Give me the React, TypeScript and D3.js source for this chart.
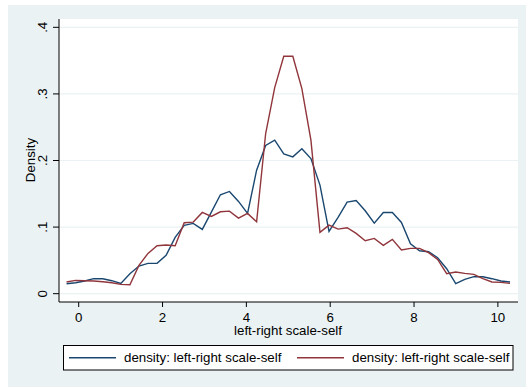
import { scaleLinear, line } from "d3";

// kdensity evaluation grid (50 points) and the two density curves
const xMin = -0.29;
const xMax = 10.29;
const blueDensity = [
  0.015, 0.0165, 0.019, 0.0225, 0.0225, 0.0195, 0.0155, 0.03, 0.0415, 0.0455,
  0.0455, 0.0575, 0.0845, 0.1025, 0.1055, 0.0965, 0.1225, 0.1485, 0.1535, 0.1385,
  0.1205, 0.1855, 0.2225, 0.2305, 0.21, 0.2055, 0.2175, 0.203, 0.163, 0.0935,
  0.1145, 0.1375, 0.14, 0.1245, 0.106, 0.122, 0.122, 0.107, 0.075, 0.0645,
  0.063, 0.054, 0.0375, 0.015, 0.0215, 0.0255, 0.0255, 0.0225, 0.019, 0.0175,
];
const redDensity = [
  0.0175, 0.02, 0.0195, 0.019, 0.018, 0.0165, 0.014, 0.0135, 0.0425, 0.0605,
  0.072, 0.073, 0.072, 0.1065, 0.1075, 0.122, 0.116, 0.123, 0.124, 0.1135,
  0.1205, 0.108, 0.2405, 0.3095, 0.3565, 0.3565, 0.308, 0.2305, 0.092, 0.103,
  0.097, 0.099, 0.0905, 0.0795, 0.083, 0.0725, 0.0815, 0.0655, 0.068, 0.068,
  0.0615, 0.0515, 0.03, 0.0325, 0.0305, 0.029, 0.0225, 0.0175, 0.017, 0.0155,
];
const xTicks = [0, 2, 4, 6, 8, 10];
const yTicks = [0, 0.1, 0.2, 0.3, 0.4];
const yTickLabels = ["0", ".1", ".2", ".3", ".4"];
const legendLabels = ["density: left-right scale-self", "density: left-right scale-self"];

const colors = ["#1a476f", "#90353b"];
const font = "'Liberation Sans', Arial, sans-serif";

const App = () => {
  const width = 526;
  const height = 387;
  const plot = { left: 59, right: 518, top: 19, bottom: 302 };

  const x = scaleLinear().domain([-0.47, 10.48]).range([plot.left, plot.right]);
  const y = scaleLinear().domain([-0.0125, 0.4125]).range([plot.bottom, plot.top]);

  const step = (xMax - xMin) / (blueDensity.length - 1);
  const path = line<number>()
    .x((_, i) => x(xMin + i * step))
    .y((d) => y(d));

  const series = [blueDensity, redDensity];

  return (
    <svg
      width={width}
      height={height}
      style={{ position: "absolute", left: 0, top: 0 }}
      fontFamily={font}
    >
      <rect x={0} y={0} width={width} height={height} fill="#ffffff" />
      <rect x={8} y={5} width={width - 8} height={height - 5} fill="#eaf2f3" />
      <rect
        x={plot.left}
        y={plot.top}
        width={plot.right - plot.left}
        height={plot.bottom - plot.top}
        fill="#ffffff"
      />

      {/* gridlines */}
      {yTicks.map((t) => (
        <line
          key={"g" + t}
          x1={plot.left}
          x2={plot.right}
          y1={y(t)}
          y2={y(t)}
          stroke="#eaf2f3"
          strokeWidth={1.2}
        />
      ))}

      {/* density lines */}
      {series.map((s, i) => (
        <path key={i} d={path(s) || ""} fill="none" stroke={colors[i]} strokeWidth={1.4} />
      ))}

      {/* axes */}
      <line x1={plot.left} x2={plot.left} y1={plot.top} y2={plot.bottom} stroke="#000" />
      <line x1={plot.left} x2={plot.right} y1={plot.bottom} y2={plot.bottom} stroke="#000" />

      {yTicks.map((t, i) => (
        <g key={"y" + t}>
          <line x1={plot.left - 6} x2={plot.left} y1={y(t)} y2={y(t)} stroke="#000" />
          <text
            transform={`translate(42, ${y(t)}) rotate(-90)`}
            textAnchor="middle"
            dy="0.35em"
            fontSize={13.3}
            fill="#000"
          >
            {yTickLabels[i]}
          </text>
        </g>
      ))}
      <text
        transform={`translate(30, 160) rotate(-90)`}
        textAnchor="middle"
        dy="0.35em"
        fontSize={13.3}
        fill="#000"
      >
        Density
      </text>

      {xTicks.map((t) => (
        <g key={"x" + t}>
          <line x1={x(t)} x2={x(t)} y1={plot.bottom} y2={plot.bottom + 5} stroke="#000" />
          <text x={x(t)} y={321.5} textAnchor="middle" fontSize={13.3} fill="#000">
            {t}
          </text>
        </g>
      ))}
      <text x={288} y={335} textAnchor="middle" fontSize={13.3} fill="#000">
        left-right scale-self
      </text>

      {/* legend */}
      <rect x={63.5} y={345.5} width={449.5} height={24.5} fill="#ffffff" stroke="#000" />
      {legendLabels.map((lab, i) => {
        const x0 = i === 0 ? 69 : 297;
        return (
          <g key={"l" + i}>
            <line x1={x0} x2={x0 + 47} y1={357.7} y2={357.7} stroke={colors[i]} strokeWidth={1.4} />
            <text x={x0 + 55} y={362.3} fontSize={13.3} fill="#000">
              {lab}
            </text>
          </g>
        );
      })}
    </svg>
  );
};

export default App;
